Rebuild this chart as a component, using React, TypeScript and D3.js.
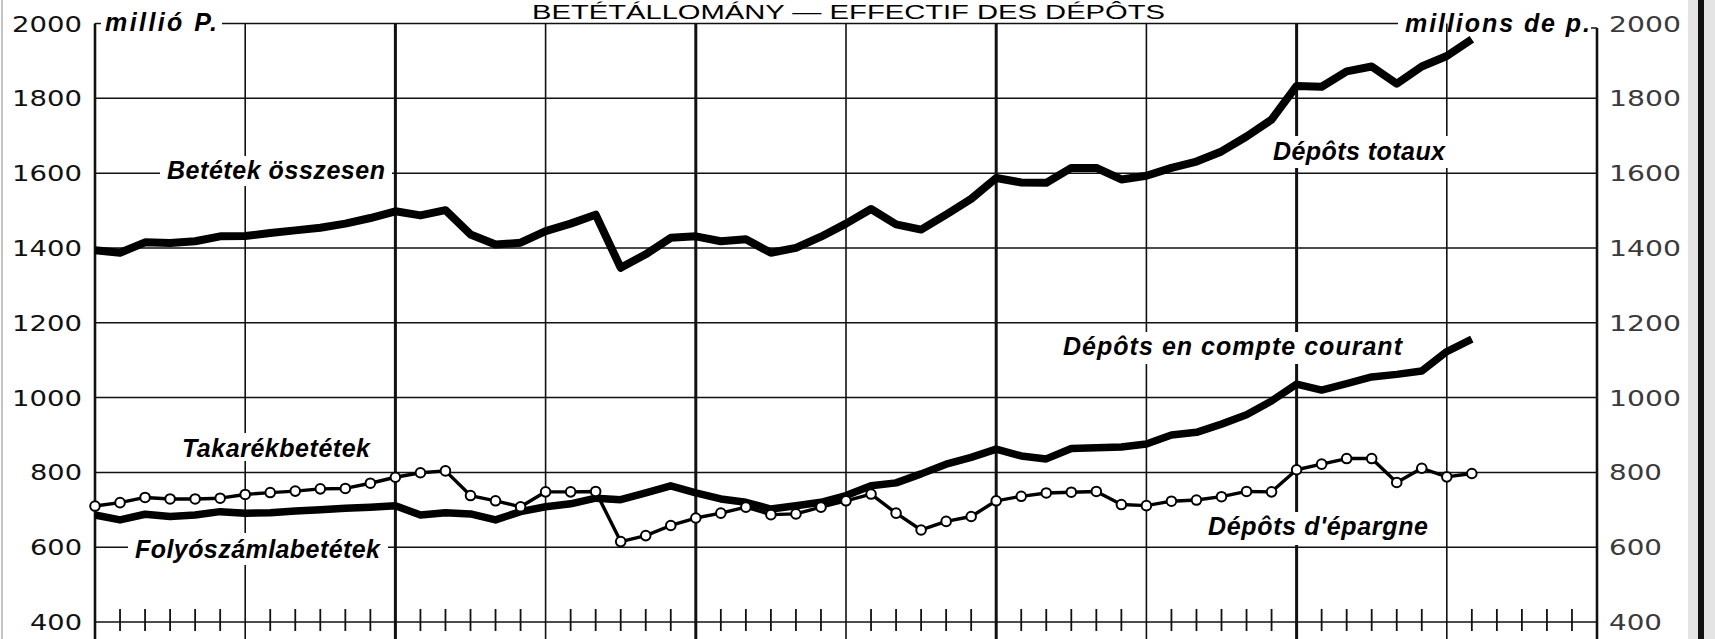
import React, { useEffect, useRef } from "react";
import * as d3 from "d3";

// monthly values, millions of pengő
const totalDeposits = [
  1394, 1387, 1415, 1413, 1418, 1431, 1432, 1440, 1447, 1454,
  1465, 1480, 1498, 1487, 1501, 1436, 1409, 1414, 1445, 1465,
  1489, 1347, 1383, 1427, 1431, 1418, 1423, 1387, 1400, 1430,
  1465, 1504, 1463, 1449, 1489, 1531, 1587, 1575, 1574, 1614,
  1614, 1583, 1593, 1614, 1631, 1658, 1698, 1743, 1833, 1831,
  1872, 1885, 1839, 1885, 1913, 1958,
];
const currentAccount = [
  686, 673, 688, 682, 686, 695, 691, 692, 697, 700,
  704, 707, 711, 686, 692, 689, 673, 695, 708, 716,
  731, 727, 745, 764, 745, 729, 720, 702, 711, 720,
  738, 764, 772, 796, 822, 840, 862, 844, 836, 864,
  866, 868, 876, 900, 907, 929, 954, 991, 1036, 1020,
  1037, 1055, 1062, 1071, 1123, 1156,
];
const savingsDeposits = [
  710, 719, 733, 729, 729, 731, 741, 746, 750, 756,
  757, 771, 787, 799, 804, 738, 724, 708, 748, 748,
  749, 615, 631, 658, 678, 691, 707, 687, 689, 707,
  724, 742, 691, 646, 669, 682, 724, 736, 745, 747,
  749, 714, 711, 723, 726, 735, 749, 748, 807, 822,
  837, 837, 773, 811, 788, 797,
];
const yTicks = [400, 600, 800, 1000, 1200, 1400, 1600, 1800, 2000];
const monthCount = 60; // 5 years on the axis
const titleText = "BETÉTÁLLOMÁNY — EFFECTIF DES DÉPÔTS";

const W = 1715;
const H = 639;

export default function App() {
  const svgRef = useRef<SVGSVGElement>(null);

  useEffect(() => {
    const svg = d3.select(svgRef.current);
    svg.selectAll("*").remove();

    const x = d3.scaleLinear().domain([0, monthCount]).range([95, 1597]);
    const y = d3.scaleLinear().domain([400, 2000]).range([622, 23.5]);
    const labelFont = "'Liberation Sans', Arial, sans-serif";

    svg.append("rect").attr("width", W).attr("height", H).attr("fill", "#fff");

    // scan edges
    svg.append("rect").attr("x", 1688).attr("y", 0).attr("width", 27).attr("height", H).attr("fill", "#e4e4e4");
    svg.append("line").attr("x1", 1701).attr("x2", 1701).attr("y1", 0).attr("y2", H)
      .attr("stroke", "#111").attr("stroke-width", 6);
    svg.append("line").attr("x1", 2).attr("x2", 2).attr("y1", 0).attr("y2", H)
      .attr("stroke", "#888").attr("stroke-width", 1);

    // horizontal grid
    svg.selectAll(".hgrid")
      .data(yTicks.filter((v) => v !== 2000))
      .enter()
      .append("line")
      .attr("x1", x(0)).attr("x2", x(monthCount))
      .attr("y1", (v) => y(v)).attr("y2", (v) => y(v))
      .attr("stroke", "#111").attr("stroke-width", 1.5);

    // top border broken by the unit labels
    svg.append("line").attr("x1", x(0)).attr("x2", 101).attr("y1", y(2000)).attr("y2", y(2000))
      .attr("stroke", "#111").attr("stroke-width", 1.5);
    svg.append("line").attr("x1", 222).attr("x2", 1398).attr("y1", y(2000)).attr("y2", y(2000))
      .attr("stroke", "#111").attr("stroke-width", 1.5);
    svg.append("line").attr("x1", 1591).attr("x2", x(monthCount)).attr("y1", 28).attr("y2", 28)
      .attr("stroke", "#111").attr("stroke-width", 1.5);

    // vertical grid: half years, year lines heavier
    const vLines = d3.range(6, monthCount, 6);
    svg.selectAll(".vgrid")
      .data(vLines)
      .enter()
      .append("line")
      .attr("x1", (m) => x(m)).attr("x2", (m) => x(m))
      .attr("y1", y(2000)).attr("y2", H)
      .attr("stroke", "#111")
      .attr("stroke-width", (m) => (m % 12 === 0 ? 3 : 1.6));

    // axes
    svg.append("line").attr("x1", x(0)).attr("x2", x(0)).attr("y1", y(2000)).attr("y2", H)
      .attr("stroke", "#111").attr("stroke-width", 2.6);
    svg.append("line").attr("x1", x(monthCount)).attr("x2", x(monthCount)).attr("y1", 28).attr("y2", H)
      .attr("stroke", "#111").attr("stroke-width", 2.6);

    // month ticks on the 400 line
    svg.selectAll(".mtick")
      .data(d3.range(1, monthCount).filter((m) => m % 6 !== 0))
      .enter()
      .append("line")
      .attr("x1", (m) => x(m)).attr("x2", (m) => x(m))
      .attr("y1", y(400) - 13).attr("y2", y(400) + 9)
      .attr("stroke", "#111").attr("stroke-width", 1.8);

    // tick labels
    const digitFont = "'DejaVu Sans', sans-serif";
    svg.selectAll(".ylabL")
      .data(yTicks)
      .enter()
      .append("text")
      .attr("x", 82)
      .attr("y", (v) => y(v) + 8)
      .attr("text-anchor", "end")
      .attr("font-family", digitFont)
      .attr("font-size", 22)
      .attr("textLength", (v) => (v >= 1000 ? 70 : 52))
      .attr("lengthAdjust", "spacingAndGlyphs")
      .attr("fill", "#111")
      .text((v) => v);
    svg.selectAll(".ylabR")
      .data(yTicks)
      .enter()
      .append("text")
      .attr("x", 1609)
      .attr("y", (v) => y(v) + 8)
      .attr("font-family", digitFont)
      .attr("font-size", 22)
      .attr("textLength", (v) => (v >= 1000 ? 72 : 53))
      .attr("lengthAdjust", "spacingAndGlyphs")
      .attr("fill", "#3a3a3a")
      .text((v) => v);

    // series labels, each on a white patch that breaks the grid
    const labels = [
      { text: "millió P.", x: 105, y: 31, len: 112, size: 25, bg: null },
      { text: "millions de p.", x: 1405, y: 32, len: 185, size: 25, bg: null },
      { text: "Betétek összesen", x: 167, y: 179, len: 218, size: 25, bg: [160, 156, 232, 30] },
      { text: "Dépôts totaux", x: 1273, y: 160, len: 172, size: 25, bg: [1266, 136, 186, 32] },
      { text: "Dépôts en compte courant", x: 1063, y: 355, len: 339, size: 25, bg: [1058, 332, 350, 32] },
      { text: "Dépôts d'épargne", x: 1208, y: 535, len: 220, size: 25, bg: [1202, 512, 232, 33] },
      { text: "Takarékbetétek", x: 182, y: 457, len: 188, size: 25, bg: [176, 433, 200, 28] },
      { text: "Folyószámlabetétek", x: 135, y: 558, len: 245, size: 25, bg: [128, 533, 260, 32] },
    ];
    labels.forEach((l) => {
      if (l.bg) {
        svg.append("rect").attr("x", l.bg[0]).attr("y", l.bg[1])
          .attr("width", l.bg[2]).attr("height", l.bg[3]).attr("fill", "#fff");
      }
    });

    // series
    const line = d3.line<number>()
      .x((_, i) => x(i))
      .y((v) => y(v));

    svg.append("path").datum(totalDeposits).attr("d", line)
      .attr("fill", "none").attr("stroke", "#000").attr("stroke-width", 8)
      .attr("stroke-linejoin", "round");
    svg.append("path").datum(currentAccount).attr("d", line)
      .attr("fill", "none").attr("stroke", "#000").attr("stroke-width", 7.5)
      .attr("stroke-linejoin", "round");
    svg.append("path").datum(savingsDeposits).attr("d", line)
      .attr("fill", "none").attr("stroke", "#000").attr("stroke-width", 3.4)
      .attr("stroke-linejoin", "round");
    svg.selectAll(".sav")
      .data(savingsDeposits)
      .enter()
      .append("circle")
      .attr("cx", (_, i) => x(i))
      .attr("cy", (v) => y(v))
      .attr("r", 4.8)
      .attr("fill", "#fff")
      .attr("stroke", "#000")
      .attr("stroke-width", 2);

    labels.forEach((l) => {
      svg.append("text")
        .attr("x", l.x).attr("y", l.y)
        .attr("font-family", labelFont)
        .attr("font-size", l.size)
        .attr("font-weight", "bold")
        .attr("font-style", "italic")
        .attr("textLength", l.len)
        .attr("fill", "#000")
        .text(l.text);
    });

    // title above the top border
    svg.append("text")
      .attr("x", 532).attr("y", 19)
      .attr("font-family", labelFont)
      .attr("font-size", 20)
      .attr("textLength", 633)
      .attr("lengthAdjust", "spacingAndGlyphs")
      .attr("fill", "#000")
      .text(titleText);
  }, []);

  return (
    <svg
      ref={svgRef}
      width={W}
      height={H}
      style={{ position: "absolute", left: 0, top: 0, display: "block" }}
    />
  );
}
